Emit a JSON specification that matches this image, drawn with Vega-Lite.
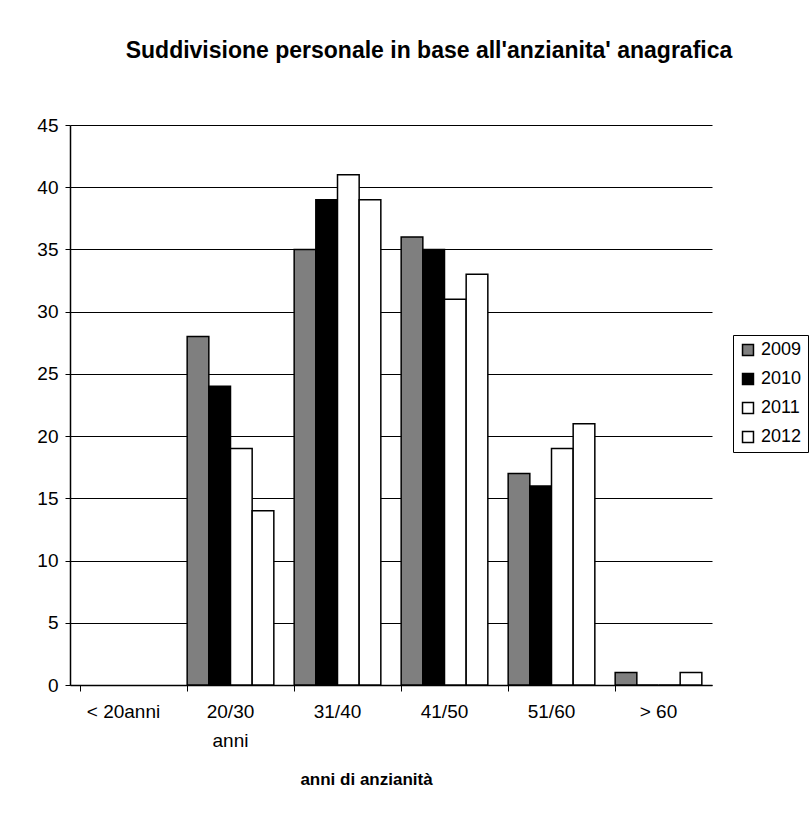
{
  "$schema": "https://vega.github.io/schema/vega-lite/v6.json",
  "width": 642,
  "height": 560,
  "autosize": "none",
  "padding": {"left": 70, "top": 125, "right": 100, "bottom": 141},
  "background": "white",
  "title": {
    "text": "Suddivisione personale in base all'anzianita' anagrafica",
    "font": "Liberation Sans",
    "fontSize": 23,
    "fontWeight": "bold",
    "color": "black",
    "frame": "group",
    "anchor": "middle",
    "offset": 53,
    "dx": 38
  },
  "data": {
    "values": [
      {"eta": "20/30 anni", "anno": "2009", "valore": 28},
      {"eta": "20/30 anni", "anno": "2010", "valore": 24},
      {"eta": "20/30 anni", "anno": "2011", "valore": 19},
      {"eta": "20/30 anni", "anno": "2012", "valore": 14},
      {"eta": "31/40", "anno": "2009", "valore": 35},
      {"eta": "31/40", "anno": "2010", "valore": 39},
      {"eta": "31/40", "anno": "2011", "valore": 41},
      {"eta": "31/40", "anno": "2012", "valore": 39},
      {"eta": "41/50", "anno": "2009", "valore": 36},
      {"eta": "41/50", "anno": "2010", "valore": 35},
      {"eta": "41/50", "anno": "2011", "valore": 31},
      {"eta": "41/50", "anno": "2012", "valore": 33},
      {"eta": "51/60", "anno": "2009", "valore": 17},
      {"eta": "51/60", "anno": "2010", "valore": 16},
      {"eta": "51/60", "anno": "2011", "valore": 19},
      {"eta": "51/60", "anno": "2012", "valore": 21},
      {"eta": "> 60", "anno": "2009", "valore": 1},
      {"eta": "> 60", "anno": "2010", "valore": 0},
      {"eta": "> 60", "anno": "2011", "valore": 0},
      {"eta": "> 60", "anno": "2012", "valore": 1}
    ]
  },
  "mark": {"type": "bar", "stroke": "black", "strokeWidth": 1.5},
  "encoding": {
    "x": {
      "field": "eta",
      "type": "nominal",
      "scale": {
        "domain": ["< 20anni", "20/30 anni", "31/40", "41/50", "51/60", "> 60"],
        "paddingInner": 0.19,
        "paddingOuter": 0.095
      },
      "axis": {
        "title": "anni di anzianità",
        "titleFont": "Liberation Sans",
        "titleFontSize": 17,
        "titleFontWeight": "bold",
        "titleColor": "black",
        "titlePadding": 21,
        "titleX": 296,
        "labelAngle": 0,
        "labelFont": "Liberation Sans",
        "labelFontSize": 19,
        "labelColor": "black",
        "labelPadding": 11,
        "labelLineHeight": 29,
        "labelExpr": "datum.label == '20/30 anni' ? ['20/30', 'anni'] : datum.label",
        "bandPosition": 0,
        "tickSize": 6,
        "tickColor": "black",
        "domainColor": "black",
        "domainWidth": 1.5
      }
    },
    "xOffset": {
      "field": "anno",
      "type": "nominal",
      "sort": ["2009", "2010", "2011", "2012"]
    },
    "y": {
      "field": "valore",
      "type": "quantitative",
      "scale": {"domain": [0, 45], "nice": false},
      "axis": {
        "title": null,
        "values": [0, 5, 10, 15, 20, 25, 30, 35, 40, 45],
        "labelFont": "Liberation Sans",
        "labelFontSize": 19,
        "labelColor": "black",
        "labelPadding": 7,
        "tickSize": 5,
        "tickColor": "black",
        "domainColor": "black",
        "domainWidth": 1.5,
        "grid": true,
        "gridColor": "black",
        "gridWidth": 1,
        "gridOpacity": 1
      }
    },
    "fill": {
      "field": "anno",
      "type": "nominal",
      "scale": {
        "domain": ["2009", "2010", "2011", "2012"],
        "range": ["#7f7f7f", "#000000", "#ffffff", "#ffffff"]
      },
      "legend": {
        "title": null,
        "orient": "none",
        "legendX": 663,
        "legendY": 210,
        "strokeColor": "black",
        "padding": 6,
        "symbolType": "square",
        "symbolSize": 120,
        "symbolStrokeColor": "black",
        "symbolStrokeWidth": 1.5,
        "symbolOffset": 0,
        "labelFont": "Liberation Sans",
        "labelFontSize": 18,
        "labelOffset": 4,
        "labelColor": "black",
        "rowPadding": 11
      }
    }
  },
  "config": {"view": {"stroke": null}}
}
